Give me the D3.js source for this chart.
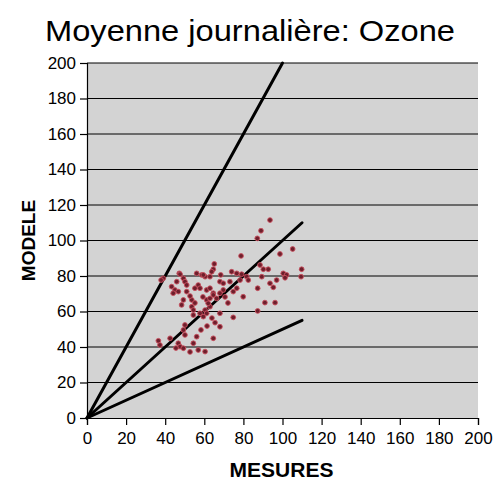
<!DOCTYPE html>
<html>
<head>
<meta charset="utf-8">
<script src="https://cdn.jsdelivr.net/npm/d3@7"></script>
<style>
  html, body { margin: 0; padding: 0; background: #ffffff; }
  svg { display: block; }
</style>
</head>
<body>
<svg id="chart" width="493" height="484"></svg>
<script>
// Daily mean ozone: measured vs modelled values
const titleText = "Moyenne journalière: Ozone";
const xLabel = "MESURES";
const yLabel = "MODELE";
const xTicks = [0, 20, 40, 60, 80, 100, 120, 140, 160, 180, 200];
const yTicks = [0, 20, 40, 60, 80, 100, 120, 140, 160, 180, 200];

// measured values (x) and modelled values (y)
const mesures = [
  93.6, 89.0, 87.1, 105.2, 98.7, 78.8, 65.1, 64.6, 88.5, 90.2,
  92.7, 109.8, 100.4, 102.1, 101.3, 109.5, 74.0, 76.6, 47.2, 39.0,
  56.1, 58.7, 60.4, 62.9, 49.3, 50.1, 68.4, 79.1, 81.7, 68.0,
  69.7, 73.1, 97.0, 93.6, 82.5, 45.9, 43.3, 45.0, 44.1, 46.7,
  51.0, 56.9, 57.8, 61.2, 62.9, 64.6, 69.7, 68.0, 74.8, 87.3,
  95.3, 79.9, 49.3, 53.6, 48.4, 61.2, 66.3, 91.0, 96.2, 53.6,
  54.4, 62.9, 60.4, 57.8, 68.0, 87.3, 74.8, 50.1, 49.3, 50.1,
  65.5, 68.0, 56.1, 64.6, 36.5, 42.5, 37.3, 46.7, 47.6, 49.3,
  54.4, 56.9, 60.4, 37.9, 52.7, 55.2, 59.3, 72.1, 70.6, 63.9,
  58.3, 61.4, 52.7, 45.5, 47.6, 59.5, 63.8, 51.0, 55.2, 64.6,
  62.9, 76.6, 78.3, 54.4, 62.0, 61.2, 59.5, 89.4
];
const modele = [
  111.5, 105.5, 101.2, 95.2, 92.4, 91.3, 86.8, 83.8, 86.2, 83.8,
  83.8, 83.8, 81.5, 80.6, 79.0, 79.6, 82.4, 81.5, 81.5, 78.7,
  81.5, 80.6, 79.6, 79.6, 78.7, 76.8, 80.6, 81.0, 79.6, 76.8,
  75.9, 76.8, 77.7, 75.9, 77.7, 76.8, 74.0, 72.1, 70.3, 71.2,
  71.2, 74.9, 73.1, 72.1, 73.1, 70.3, 72.1, 70.3, 71.2, 73.1,
  73.6, 68.3, 66.5, 66.5, 63.7, 66.5, 67.4, 65.0, 65.0, 62.7,
  60.8, 62.7, 60.8, 59.0, 59.0, 60.3, 56.7, 52.4, 49.6, 46.8,
  53.7, 51.4, 45.8, 44.9, 43.5, 44.9, 41.1, 42.1, 40.2, 39.3,
  42.1, 38.3, 37.4, 77.7, 68.7, 64.8, 68.2, 64.8, 68.2, 56.3,
  49.6, 51.8, 37.2, 39.4, 81.0, 80.6, 82.4, 74.9, 73.1, 69.3,
  67.4, 73.1, 77.7, 58.0, 64.6, 59.0, 57.1, 79.6
];

// reference lines: model = 2 x measure, = measure, = 0.5 x measure
const refSlopes = [2, 1, 0.5];
const refXEnd = [100, 110, 110];

const svg = d3.select("#chart");
const margin = { left: 87, right: 15, top: 63, bottom: 66 };
const W = 493, H = 484;

const x = d3.scaleLinear().domain([0, 200]).range([margin.left, W - margin.right]);
const y = d3.scaleLinear().domain([0, 200]).range([H - margin.bottom, margin.top]);

// plot background
svg.append("rect")
  .attr("x", x(0)).attr("y", y(200))
  .attr("width", x(200) - x(0)).attr("height", y(0) - y(200))
  .attr("fill", "#d3d3d3");

// horizontal grid lines
svg.append("g").selectAll("line")
  .data(yTicks.filter(d => d > 0))
  .join("line")
  .attr("x1", x(0)).attr("x2", x(200))
  .attr("y1", d => y(d)).attr("y2", d => y(d))
  .attr("stroke", "#000").attr("stroke-width", 1);

// axes
const font = "'Liberation Sans', Arial, Helvetica, sans-serif";
const yAxis = svg.append("g")
  .attr("transform", `translate(${x(0)},0)`)
  .call(d3.axisLeft(y).tickValues(yTicks).tickSize(7).tickPadding(4).tickFormat(d3.format("d")));
const xAxis = svg.append("g")
  .attr("transform", `translate(0,${y(0)})`)
  .call(d3.axisBottom(x).tickValues(xTicks).tickSize(7).tickPadding(7).tickFormat(d3.format("d")));
[xAxis, yAxis].forEach(g => {
  g.select(".domain").attr("stroke", "#000").attr("stroke-width", 1.2);
  g.selectAll(".tick line").attr("stroke", "#000").attr("stroke-width", 1.2);
  g.selectAll(".tick text")
    .attr("fill", "#000")
    .style("font-family", font)
    .style("font-size", "17px");
});

// reference lines
svg.append("g").selectAll("line")
  .data(refSlopes)
  .join("line")
  .attr("x1", x(0)).attr("y1", y(0))
  .attr("x2", (d, i) => x(refXEnd[i]))
  .attr("y2", (d, i) => y(refXEnd[i] * d))
  .attr("stroke", "#000").attr("stroke-width", 3)
  .attr("stroke-linecap", "round");

// scatter points
const pts = mesures.map((m, i) => ({ m, v: modele[i] }));
svg.append("g").selectAll("circle")
  .data(pts)
  .join("circle")
  .attr("cx", d => x(d.m))
  .attr("cy", d => y(d.v))
  .attr("r", 2.4)
  .attr("fill", "#6e1f2c")
  .attr("stroke", "#c8505f")
  .attr("stroke-width", 0.9);

// title and axis labels
svg.append("text")
  .attr("x", 250).attr("y", 41)
  .attr("text-anchor", "middle")
  .attr("textLength", 410)
  .attr("lengthAdjust", "spacingAndGlyphs")
  .style("font-family", font)
  .style("font-size", "30px")
  .attr("fill", "#000")
  .text(titleText);

svg.append("text")
  .attr("x", x(100) - 1).attr("y", 477)
  .attr("text-anchor", "middle")
  .style("font-family", font)
  .style("font-size", "21px")
  .style("font-weight", "bold")
  .attr("fill", "#000")
  .text(xLabel);

svg.append("text")
  .attr("transform", `translate(35,${y(100)}) rotate(-90)`)
  .attr("text-anchor", "middle")
  .style("font-family", font)
  .style("font-size", "19px")
  .style("font-weight", "bold")
  .attr("fill", "#000")
  .text(yLabel);
</script>
</body>
</html>
